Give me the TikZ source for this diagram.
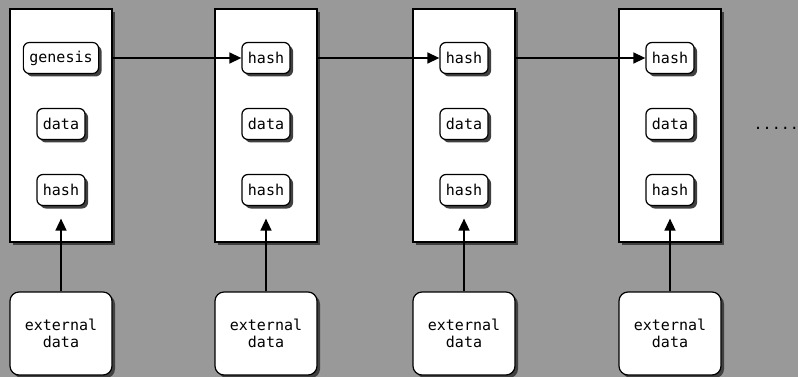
\documentclass[tikz,border=0pt]{standalone}
\usepackage{fontspec}
\setmonofont{DejaVu Sans Mono}
\usetikzlibrary{arrows.meta,shadows}
\definecolor{bggray}{HTML}{999999}
\tikzset{
  shade3/.style={drop shadow={shadow xshift=3pt,shadow yshift=-3pt,opacity=1,fill=black!75}},
  block/.style={draw,thick,line width=1.4pt,fill=white,inner sep=0pt,minimum width=102pt,minimum height=233pt,shade3},
  field/.style={draw,line width=1.2pt,fill=white,rounded corners=6pt,inner xsep=6pt,minimum height=31pt,
    font=\ttfamily\fontsize{15}{16}\selectfont,shade3},
  ext/.style={draw,line width=1.2pt,fill=white,rounded corners=9pt,minimum width=102pt,minimum height=83pt,
    align=center,font=\ttfamily\fontsize{15}{17}\selectfont,shade3},
  link/.style={line width=1.5pt,-{Triangle[length=12pt,width=11pt]}}
}
\newcommand{\chainblock}[3]{ \node[block] (b#1) at (#2,125.5) {}; \node[field] (top#1) at (#2,58) {#3}; \node[field] (data#1) at (#2,124) {data}; \node[field] (hash#1) at (#2,190) {hash}; \node[ext] (ext#1) at (#2,333.5) {external\\data}; \draw[link,shorten >=12.5pt] (ext#1) -- (hash#1);}
\begin{document}
\begin{tikzpicture}[x=1pt,y=-1pt]
\fill[bggray] (0,0) rectangle (798,377);
\useasboundingbox (0,0) rectangle (798,377);
% blocks
\chainblock{1}{61}{genesis}
\chainblock{2}{266}{hash}
\chainblock{3}{464}{hash}
\chainblock{4}{670}{hash}
% links
\draw[link] (top1 -| b1.east) -- (top2);
\draw[link] (top2 -| b2.east) -- (top3);
\draw[link] (top3 -| b3.east) -- (top4);
% more
\node[inner sep=0pt,anchor=base west,font=\ttfamily\fontsize{15}{16}\selectfont] (more) at (753.5,130) {.....};
\end{tikzpicture}
\end{document}
